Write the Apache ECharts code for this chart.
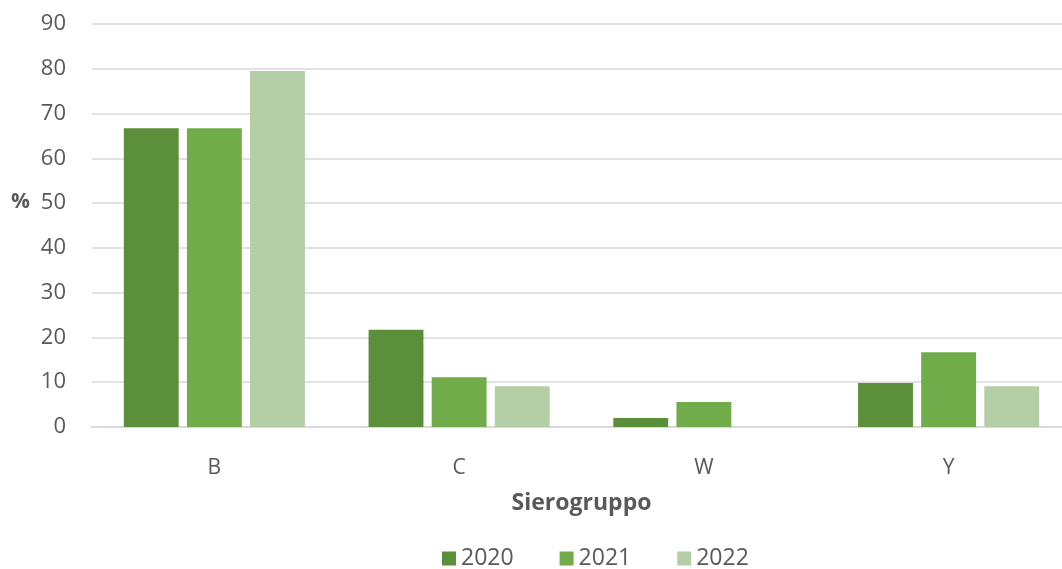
<!DOCTYPE html>
<html>
<head>
<meta charset="utf-8">
<script src="https://cdn.jsdelivr.net/npm/echarts@6/dist/echarts.min.js"></script>
<style>
  html, body { margin: 0; padding: 0; background: #fff; overflow: hidden; }
  /* l'area del grafico esce un po' dal bordo destro, come nell'originale */
  #chart { width: 1071px; height: 569px; }
</style>
</head>
<body>
<div id="chart"></div>
<script>
var categories = ['B', 'C', 'W', 'Y']
var years = ['2020', '2021', '2022']
var values2020 = [66.7, 21.7, 2.0, 9.8]
var values2021 = [66.7, 11.1, 5.6, 16.7]
var values2022 = [79.5, 9.1, 0, 9.1]
var colors = ['#5b8f3a', '#71ac4a', '#b4cea6']

var myChart = echarts.init(document.getElementById('chart'))
var font = '"Open Sans", "Noto Sans", sans-serif'

var option = {
  color: colors,
  textStyle: { fontFamily: font },
  grid: {
    left: 92,
    right: 0,
    top: 24,
    bottom: 142
  },
  // titolo asse y, spostato un po' sopra il centro
  graphic: [
    {
      type: 'text',
      left: 11,
      top: 192,
      style: { text: '%', fill: '#595959', font: 'bold 21px ' + font }
    }
  ],
  legend: {
    bottom: -6,
    left: 437,
    itemWidth: 14,
    itemHeight: 14,
    itemGap: 46,
    icon: 'rect',
    textStyle: { color: '#595959', fontSize: 23, fontFamily: font },
    data: years
  },
  xAxis: {
    type: 'category',
    data: categories,
    name: 'Sierogruppo',
    nameLocation: 'middle',
    nameGap: 65,
    nameTextStyle: { color: '#595959', fontSize: 23, fontWeight: 'bold', fontFamily: font },
    axisTick: { show: false },
    axisLine: { lineStyle: { color: '#d9d9d9', width: 2 } },
    axisLabel: { color: '#595959', fontSize: 21, margin: 31, fontFamily: font }
  },
  yAxis: {
    type: 'value',
    min: 0,
    max: 90,
    interval: 10,
    axisLabel: { color: '#595959', fontSize: 22, margin: 26, fontFamily: font },
    axisLine: { show: false },
    axisTick: { show: false },
    splitLine: { lineStyle: { color: '#d9d9d9', width: 1.5 } }
  },
  series: [
    { name: '2020', type: 'bar', data: values2020, barGap: '15%', barCategoryGap: '26%' },
    { name: '2021', type: 'bar', data: values2021, barGap: '15%', barCategoryGap: '26%' },
    { name: '2022', type: 'bar', data: values2022, barGap: '15%', barCategoryGap: '26%' }
  ]
}
myChart.setOption(option)
</script>
</body>
</html>
